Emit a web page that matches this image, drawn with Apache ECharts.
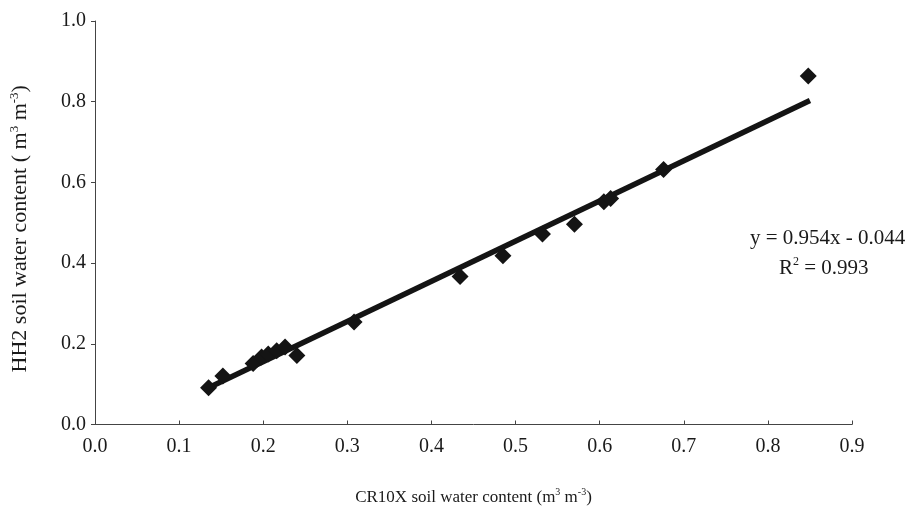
<!DOCTYPE html>
<html>
<head>
<meta charset="utf-8">
<script src="https://cdn.jsdelivr.net/npm/echarts@6/dist/echarts.min.js"></script>
<style>html,body{margin:0;padding:0;background:#fff}#c{width:912px;height:511px}</style>
</head>
<body>
<div id="c"></div>
<script>
// Data
var cr10x = [0.135, 0.152, 0.188, 0.198, 0.206, 0.216, 0.226, 0.240, 0.308, 0.434, 0.485, 0.532, 0.570, 0.605, 0.613, 0.676, 0.848];
var hh2   = [0.091, 0.120, 0.151, 0.167, 0.175, 0.183, 0.192, 0.171, 0.254, 0.367, 0.418, 0.472, 0.496, 0.552, 0.560, 0.632, 0.864];
var trendX = [0.135, 0.850];
var trendY = [0.091, 0.803];
var xTicks = ['0.0','0.1','0.2','0.3','0.4','0.5','0.6','0.7','0.8','0.9'];
var yTicks = ['0.0','0.2','0.4','0.6','0.8','1.0'];
var eqLine1 = 'y = 0.954x - 0.044';
var eqLine2 = '0.993';

var points = cr10x.map(function (x, i) { return [x, hh2[i]]; });
var trend = trendX.map(function (x, i) { return [x, trendY[i]]; });
var font = 'Liberation Serif';
var ink = '#141414';

var chart = echarts.init(document.getElementById('c'), null, {renderer: 'canvas'});
chart.setOption({
  animation: false,
  backgroundColor: '#fff',
  grid: {left: 91, right: 60, top: 21, bottom: 85, containLabel: false},
  xAxis: {
    type: 'value', min: 0, max: 0.9, interval: 0.1,
    axisLine: {show: true, lineStyle: {color: '#444', width: 1}},
    axisTick: {show: true, inside: true, length: 4, lineStyle: {color: '#444'}},
    splitLine: {show: false},
    axisLabel: {
      margin: 12, color: '#1a1a1a', fontFamily: font, fontSize: 20,
      formatter: function (v) { return xTicks[Math.round(v * 10)]; }
    },
    name: '{n|CR10X soil water content (m}{s|3}{n| m}{s|-3}{n|)}',
    nameLocation: 'middle', nameGap: 63,
    nameTextStyle: {
      rich: {
        n: {fontFamily: font, fontSize: 17, color: '#1a1a1a'},
        s: {fontFamily: font, fontSize: 10, color: '#1a1a1a', verticalAlign: 'top', padding: [0, 0, 10, 0]}
      }
    }
  },
  yAxis: {
    type: 'value', min: 0, max: 1.0, interval: 0.2,
    axisLine: {show: true, lineStyle: {color: '#444', width: 1}},
    axisTick: {show: true, inside: false, length: 4, lineStyle: {color: '#444'}},
    splitLine: {show: false},
    axisLabel: {
      margin: 9, color: '#1a1a1a', fontFamily: font, fontSize: 20,
      formatter: function (v) { return yTicks[Math.round(v * 5)]; }
    },
    name: '{n|HH2 soil water content ( m}{s|3}{n| m}{s|-3}{n|)}',
    nameLocation: 'middle', nameGap: 62, nameRotate: 90,
    nameTextStyle: {
      padding: [0, 12, 0, 0],
      rich: {
        n: {fontFamily: font, fontSize: 22, color: '#1a1a1a'},
        s: {fontFamily: font, fontSize: 13, color: '#1a1a1a', verticalAlign: 'top', padding: [0, 0, 12, 0]}
      }
    }
  },
  series: [
    {
      type: 'line', data: trend, symbol: 'none', silent: true,
      lineStyle: {color: ink, width: 5.5}, z: 2
    },
    {
      type: 'scatter', data: points, symbol: 'diamond', symbolSize: 17,
      itemStyle: {color: ink, opacity: 1}, z: 3
    }
  ],
  graphic: [
    {
      type: 'text', left: 750, top: 228,
      style: {text: eqLine1, font: '21px "Liberation Serif"', fill: '#1a1a1a'}
    },
    {
      type: 'text', left: 779, top: 256,
      style: {
        text: '{n|R}{s|2}{n| = ' + eqLine2 + '}',
        rich: {
          n: {fontFamily: font, fontSize: 21, fill: '#1a1a1a'},
          s: {fontFamily: font, fontSize: 12, fill: '#1a1a1a', verticalAlign: 'top', padding: [0, 0, 12, 0]}
        }
      }
    }
  ]
});
</script>
</body>
</html>
